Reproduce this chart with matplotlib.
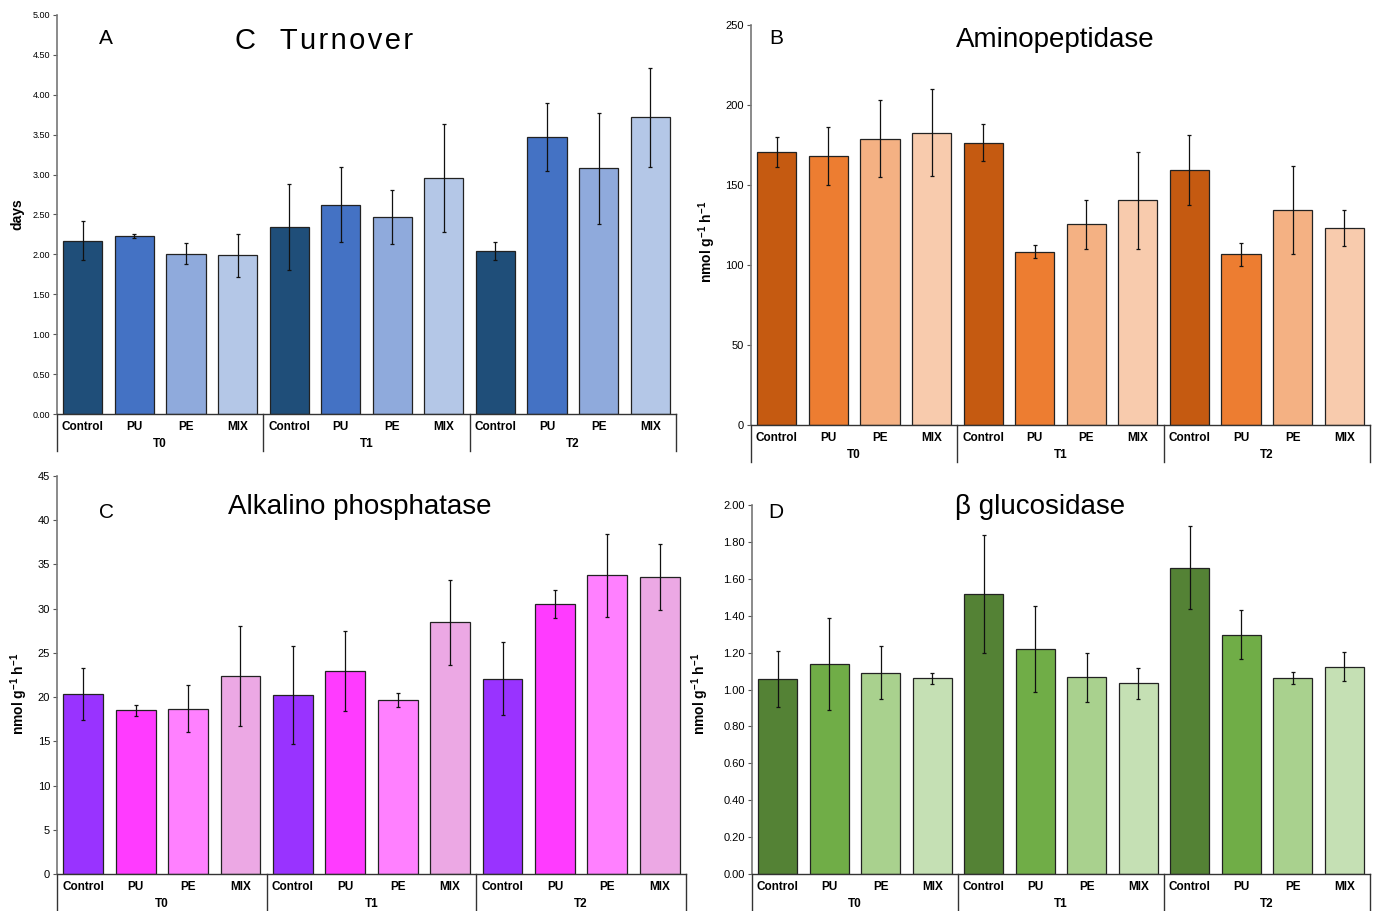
import matplotlib
matplotlib.use("Agg")
import matplotlib.pyplot as plt
import matplotlib.transforms as mtransforms
from matplotlib.ticker import FormatStrFormatter, MultipleLocator

plt.rcParams['font.family'] = ['Liberation Sans', 'DejaVu Sans']
plt.rcParams['mathtext.fontset'] = 'custom'
plt.rcParams['mathtext.rm'] = 'Liberation Sans'
plt.rcParams['mathtext.bf'] = 'Liberation Sans:bold'

treatments = ["Control", "PU", "PE", "MIX"]
times = ["T0", "T1", "T2"]

# Panel A: C turnover (days)
turnover = [2.17, 2.23, 2.01, 1.99, 2.34, 2.62, 2.47, 2.96, 2.04, 3.47, 3.08, 3.72]
turnover_err = [0.245, 0.02, 0.13, 0.27, 0.54, 0.47, 0.335, 0.675, 0.11, 0.425, 0.695, 0.62]

# Panel B: Aminopeptidase
amino = [170.5, 168.0, 179.0, 182.7, 176.5, 108.3, 125.6, 140.4, 159.6, 106.7, 134.2, 123.1]
amino_err = [9.5, 18.0, 24.0, 27.3, 11.5, 4.2, 15.3, 30.5, 21.8, 7.2, 27.6, 11.0]

# Panel C: Alkalino phosphatase
alk = [20.36, 18.52, 18.67, 22.39, 20.25, 22.92, 19.68, 28.44, 22.09, 30.50, 33.77, 33.58]
alk_err = [2.95, 0.64, 2.65, 5.7, 5.5, 4.5, 0.8, 4.85, 4.1, 1.6, 4.7, 3.7]

# Panel D: beta glucosidase
gluc = [1.057, 1.137, 1.091, 1.062, 1.518, 1.222, 1.066, 1.033, 1.659, 1.296, 1.064, 1.123]
gluc_err = [0.15, 0.25, 0.143, 0.03, 0.32, 0.233, 0.132, 0.083, 0.225, 0.133, 0.033, 0.078]

blues = ["#1F4E79", "#4472C4", "#8FAADC", "#B4C7E7"]
oranges = ["#C55A11", "#ED7D31", "#F4B183", "#F8CBAD"]
purples = ["#9933FF", "#FF3BFF", "#FF80FF", "#ECA8E4"]
greens = ["#548235", "#70AD47", "#A9D18E", "#C5E0B4"]

W, H = 1379, 911
fig = plt.figure(figsize=(W / 100, H / 100), dpi=100)


def fx(px):
    return px / W


def fy(py):
    return 1 - py / H


def panel(rect_px, values, errors, colors, ymax, ystep, fmt, tick_fs,
          letter, letter_xy, title, title_xy, title_fs, ylabel, ylabel_xy):
    l, t, r, b = rect_px
    ax = fig.add_axes([fx(l), fy(b), fx(r - l), (b - t) / H])
    n = len(values)
    xs = list(range(n))
    cols = [colors[i % 4] for i in range(n)]
    ax.bar(xs, values, width=0.76, color=cols, edgecolor="#222222", linewidth=0.9, zorder=2)
    ax.errorbar(xs, values, yerr=errors, fmt="none", ecolor="#111111",
                elinewidth=0.9, capsize=1.5, capthick=0.9, zorder=3)
    ax.set_xlim(-0.5, n - 0.5)
    ax.set_ylim(0, ymax)
    ax.yaxis.set_major_locator(MultipleLocator(ystep))
    ax.yaxis.set_major_formatter(FormatStrFormatter(fmt))
    ax.tick_params(axis="y", labelsize=tick_fs, length=3, width=0.8, color="#555555", pad=2)
    ax.set_xticks(xs)
    ax.set_xticklabels([treatments[i % 4] for i in range(n)], fontsize=8.5, fontweight="bold")
    ax.tick_params(axis="x", length=0, pad=5)
    for s in ["top", "right"]:
        ax.spines[s].set_visible(False)
    ax.spines["left"].set_color("#777777")
    ax.spines["left"].set_linewidth(1.2)
    ax.spines["bottom"].set_color("#333333")
    ax.spines["bottom"].set_linewidth(1.0)
    trans = mtransforms.blended_transform_factory(ax.transData, ax.transAxes)
    depth = 37 / (b - t)
    for g in range(len(times) + 1):
        xsep = g * 4 - 0.5
        ax.plot([xsep, xsep], [0, -depth], transform=trans, color="#333333",
                lw=1.0, clip_on=False)
    for g, tname in enumerate(times):
        ax.text(g * 4 + 1.5, -30 / (b - t), tname, transform=trans, ha="center",
                va="center", fontsize=8.5, fontweight="bold")
    fig.text(fx(letter_xy[0]), fy(letter_xy[1]), letter, ha="center", va="center", fontsize=15)
    fig.text(fx(title_xy[0]), fy(title_xy[1]), title, ha="center", va="center",
             fontsize=title_fs)
    fig.text(fx(ylabel_xy[0]), fy(ylabel_xy[1]), ylabel, ha="center", va="center",
             rotation=90, fontsize=10, fontweight="bold")
    return ax


unit = r"nmol g$^{\mathbf{-1}}$ h$^{\mathbf{-1}}$"
hs = "\u200a"
turn_title = "C   " + hs.join("Turnover")

panel((57, 15, 676, 414), turnover, turnover_err, blues, 5.0, 0.5, "%.2f", 6.5,
      "A", (106, 38), turn_title, (324, 41), 21, "days", (17, 214))
panel((751, 25, 1370, 425), amino, amino_err, oranges, 250, 50, "%d", 8,
      "B", (776, 38), "Aminopeptidase", (1055, 40), 20, unit, (707, 242))
panel((57, 476, 686, 874), alk, alk_err, purples, 45, 5, "%d", 8,
      "C", (106, 513), "Alkalino phosphatase", (360, 507), 20, unit, (19, 694))
panel((752, 505, 1370, 874), gluc, gluc_err, greens, 2.0, 0.2, "%.2f", 8,
      "D", (776, 512), "β glucosidase", (1040, 507), 20, unit, (700, 694))

fig.savefig("out.png", dpi=100)
